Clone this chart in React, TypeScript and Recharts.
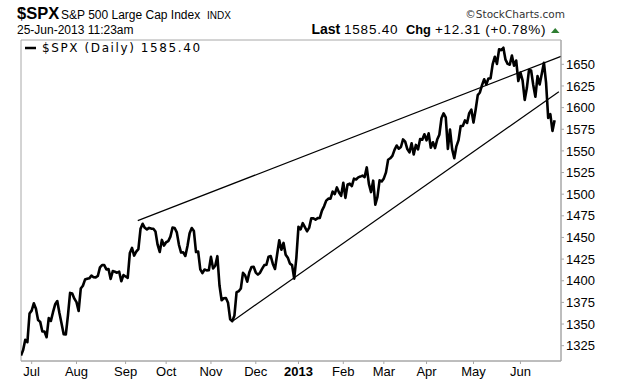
import { LineChart, Line, XAxis, YAxis, ReferenceLine, ReferenceArea } from 'recharts';

// daily closes, 25-Jun-2012 .. 31-Dec-2012
const closes2012 = [
  1313.72, 1319.99, 1331.85, 1329.04, 1362.16,
  1365.51, 1374.02, 1367.58, 1354.68, 1352.46, 1341.47, 1341.45, 1334.76, 1356.78, 1353.64, 1363.67,
  1372.78, 1376.51, 1362.66, 1350.52, 1338.31, 1337.89, 1360.02, 1385.97, 1385.3, 1379.32,
  1375.32, 1365.0, 1390.99, 1394.23, 1401.35, 1402.22, 1402.8, 1405.87, 1404.11, 1403.93, 1405.53,
  1415.51, 1418.16, 1418.13, 1413.17, 1413.49, 1402.08, 1411.13, 1410.44, 1409.3, 1410.49, 1399.48, 1406.58,
  1404.94, 1403.44, 1432.12, 1437.92, 1429.08, 1433.56, 1436.56, 1459.99, 1465.77, 1461.19, 1459.32,
  1461.05, 1460.26, 1460.15, 1456.89, 1441.59, 1433.32, 1447.15, 1440.67,
  1444.49, 1445.75, 1450.99, 1461.4, 1460.93, 1455.88, 1441.48, 1432.56, 1432.84, 1428.59, 1440.13,
  1454.92, 1460.91, 1457.34, 1433.19, 1433.82, 1413.11, 1408.75, 1412.97, 1411.94, 1412.16,
  1427.59, 1414.2, 1417.26, 1428.39, 1394.53, 1377.51, 1379.85, 1380.03, 1374.53, 1355.49, 1353.33,
  1359.88, 1386.89, 1387.81, 1391.03, 1409.15, 1406.29, 1398.94, 1409.93, 1415.95, 1416.18,
  1409.46, 1407.05, 1409.28, 1413.94, 1418.07, 1418.55, 1427.84, 1428.48, 1419.45, 1413.58, 1430.36,
  1446.79, 1435.81, 1443.69, 1430.15, 1426.66, 1419.83, 1418.1, 1402.43, 1426.19,
];

// daily closes, 2-Jan-2013 .. 25-Jun-2013
const closes2013 = [
  1462.42, 1459.37, 1466.47, 1461.89, 1457.15, 1461.02, 1472.12, 1472.05, 1470.68, 1472.34, 1472.63,
  1480.94, 1485.98, 1492.56, 1494.81, 1494.82, 1502.96, 1500.18, 1507.84, 1501.96, 1498.11,
  1513.17, 1495.71, 1511.29, 1512.12, 1509.39, 1517.93, 1517.01, 1519.43, 1520.33, 1521.38, 1519.79,
  1530.94, 1511.95, 1502.42, 1515.6, 1487.85, 1496.94, 1515.99, 1514.68,
  1518.2, 1525.2, 1539.79, 1541.46, 1544.26, 1551.18, 1556.22, 1552.48, 1554.52, 1563.23, 1560.7,
  1552.1, 1548.34, 1558.71, 1545.8, 1556.89, 1551.69, 1563.77, 1562.85, 1569.19,
  1562.17, 1570.25, 1553.69, 1559.98, 1553.28, 1563.07, 1568.61, 1587.73, 1593.37, 1588.85, 1552.36,
  1574.57, 1552.01, 1541.61, 1555.25, 1562.5, 1578.78, 1578.79, 1585.16, 1582.24, 1593.61, 1597.57,
  1582.7, 1597.59, 1614.42, 1617.5, 1625.96, 1632.69, 1626.67, 1633.7, 1633.77, 1650.34, 1658.78,
  1650.47, 1667.47, 1666.29, 1669.16, 1655.35, 1650.51, 1649.6, 1660.06, 1648.36, 1654.41, 1630.74,
  1640.42, 1631.38, 1608.9, 1622.56, 1643.38, 1642.81, 1626.13, 1612.52, 1636.36, 1626.73, 1639.04,
  1651.81, 1628.93, 1588.19, 1592.43, 1573.09, 1585.4,
];

const closes = [...closes2012, ...closes2013];

// first trading day of each month (index into closes)
const monthTickIdx = [5, 26, 49, 68, 89, 110, 130, 151, 170, 190, 212, 234];
const monthLabels = ['Jul', 'Aug', 'Sep', 'Oct', 'Nov', 'Dec', '2013', 'Feb', 'Mar', 'Apr', 'May', 'Jun'];
const priceTicks = [1325, 1350, 1375, 1400, 1425, 1450, 1475, 1500, 1525, 1550, 1575, 1600, 1625, 1650];

// hand drawn trend lines (index, price)
const upperTrend = [{ x: 54.7, y: 1469.4 }, { x: 253, y: 1659.2 }];
const lowerTrend = [{ x: 99.4, y: 1353.9 }, { x: 252, y: 1618.4 }];

const X_MIN = 0;
const X_MAX = 253;
const Y_MIN = 1307.3;
const Y_MAX = 1678.1;

const data = closes.map((v, i) => ({ i, v }));

const font = '"Liberation Sans", Arial, sans-serif';
const legendFont = '"DejaVu Sans", Verdana, sans-serif';
const frame = '#a8a8a8';

const MonthTick = ({ x, y, payload }: any) => {
  const idx = monthTickIdx.indexOf(payload.value);
  const label = monthLabels[idx] ?? '';
  return (
    <text x={x} y={y} dy="0.71em" textAnchor="middle" fontFamily={font} fontSize={13}
      fontWeight={label === '2013' ? 'bold' : 'normal'} fill="#000">
      {label}
    </text>
  );
};

export default function App() {
  return (
    <div style={{ position: 'absolute', left: 0, top: 0, width: 620, height: 383, background: '#fff' }}>
      <LineChart width={620} height={383} data={data} margin={{ top: 40, right: 0, bottom: 0, left: 21 }}>
        <XAxis
          dataKey="i"
          type="number"
          domain={[X_MIN, X_MAX]}
          ticks={monthTickIdx}
          allowDataOverflow
          height={22}
          tick={<MonthTick />}
          tickSize={3}
          tickMargin={3}
          axisLine={{ stroke: frame }}
          tickLine={{ stroke: frame }}
        />
        <YAxis
          orientation="right"
          type="number"
          domain={[Y_MIN, Y_MAX]}
          ticks={priceTicks}
          allowDataOverflow
          width={59}
          tickSize={3}
          tickMargin={2}
          tick={{ fontFamily: font, fontSize: 13, fill: '#000' }}
          axisLine={{ stroke: frame }}
          tickLine={{ stroke: frame }}
        />
        <ReferenceArea x1={X_MIN} x2={X_MAX} y1={Y_MIN} y2={Y_MAX} fill="none" stroke={frame} strokeOpacity={1} />
        <ReferenceLine segment={upperTrend} stroke="#000" strokeWidth={1.2} ifOverflow="visible" />
        <ReferenceLine segment={lowerTrend} stroke="#000" strokeWidth={1.2} ifOverflow="visible" />
        <Line
          type="linear"
          dataKey="v"
          stroke="#000"
          strokeWidth={2.6}
          strokeLinejoin="round"
          dot={false}
          isAnimationActive={false}
        />
      </LineChart>

      <svg width={620} height={383} style={{ position: 'absolute', left: 0, top: 0, pointerEvents: 'none' }}>
        <text x={17} y={19} fontFamily={font} fontSize={16.5} fontWeight="bold" fill="#000">$SPX</text>
        <text x={61} y={19} fontFamily={font} fontSize={12} fill="#000">S&amp;P 500 Large Cap Index</text>
        <text x={207} y={19} fontFamily={font} fontSize={10} fill="#000">INDX</text>
        <text x={565} y={18} textAnchor="end" fontFamily={legendFont} fontSize={10.5} fill="#333">
          ©StockCharts.com
        </text>

        <text x={17} y={34} fontFamily={font} fontSize={12} fill="#000">25-Jun-2013 11:23am</text>
        <text x={311.5} y={34} fontFamily={font} fontSize={14} fontWeight="bold" fill="#000">Last</text>
        <text x={344} y={34} fontFamily={font} fontSize={13.5} letterSpacing={0.8} fill="#000">1585.40</text>
        <text x={406} y={34} fontFamily={font} fontSize={12.8} fontWeight="bold" fill="#000">Chg</text>
        <text x={435} y={34} fontFamily={font} fontSize={13.5} letterSpacing={0.7} fill="#000">+12.31 (+0.78%)</text>
        <polygon points="551,33 559.5,33 555.2,28" fill="#2e7d32" />

        <line x1={25} y1={48} x2={36} y2={48} stroke="#000" strokeWidth={2.5} />
        <text x={42} y={52} fontFamily={legendFont} fontSize={12} letterSpacing={1.6} fill="#000">
          $SPX (Daily) 1585.40
        </text>
      </svg>
    </div>
  );
}
